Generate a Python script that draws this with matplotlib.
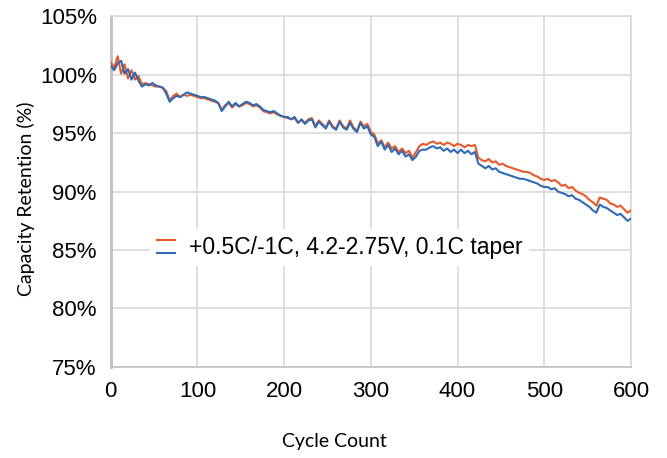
import numpy as np
import matplotlib
matplotlib.use("Agg")
import matplotlib.pyplot as plt
from matplotlib.lines import Line2D
from matplotlib.legend_handler import HandlerBase
from matplotlib.ticker import FuncFormatter

cycles = np.arange(0, 601, 4)

# orange series (%)
orange = [
    101.1, 100.6, 101.6, 100.1, 100.9, 99.7, 100.4, 99.6, 99.9, 99.2,
    99.3, 99.2, 99.1, 99.0, 99.0, 98.9, 98.6, 97.8, 98.2, 98.4,
    98.1, 98.3, 98.2, 98.3, 98.2, 98.1, 98.0, 98.0, 97.9, 97.8,
    97.7, 97.6, 97.0, 97.4, 97.6, 97.2, 97.5, 97.3, 97.4, 97.6,
    97.5, 97.3, 97.4, 97.2, 96.9, 96.8, 96.7, 96.8, 96.6, 96.5,
    96.4, 96.3, 96.2, 96.3, 95.9, 96.1, 95.9, 96.2, 96.3, 95.6,
    96.1, 95.8, 95.5, 96.1, 95.6, 95.4, 96.1, 95.6, 95.4, 96.1,
    95.5, 95.2, 96.0, 95.6, 95.8, 95.1, 94.9, 94.1, 94.4, 93.8,
    94.2, 93.7, 93.9, 93.4, 93.7, 93.3, 93.5, 92.9, 93.4, 93.9,
    94.1, 94.0, 94.2, 94.3, 94.1, 94.2, 94.0, 94.2, 94.1, 93.9,
    94.1, 94.0, 93.8, 94.0, 93.9, 94.0, 92.9, 92.7, 92.6, 92.8,
    92.5, 92.6, 92.3, 92.4, 92.2, 92.1, 92.0, 91.9, 91.8, 91.7,
    91.7, 91.6, 91.4, 91.3, 91.1, 91.0, 91.1, 90.9, 91.0, 90.8,
    90.5, 90.6, 90.3, 90.4, 90.1, 89.9, 89.8, 89.6, 89.3, 89.1,
    88.8, 89.5, 89.4, 89.3, 89.0, 88.9, 88.7, 88.8, 88.5, 88.2,
    88.4,
]

# blue series (%)
blue = [
    100.8, 100.4, 101.0, 101.2, 100.1, 100.5, 99.6, 100.2, 99.5, 99.0,
    99.2, 99.1, 99.3, 99.1, 99.0, 98.9, 98.4, 97.7, 98.0, 98.2,
    98.1, 98.3, 98.5, 98.4, 98.3, 98.2, 98.1, 98.1, 98.0, 97.9,
    97.8, 97.6, 96.9, 97.3, 97.7, 97.3, 97.6, 97.3, 97.5, 97.7,
    97.6, 97.4, 97.5, 97.3, 97.0, 96.9, 96.8, 96.9, 96.7, 96.5,
    96.4, 96.4, 96.2, 96.4, 95.9, 96.2, 95.8, 96.1, 96.2, 95.5,
    96.0, 95.7, 95.4, 96.0, 95.5, 95.3, 96.0, 95.5, 95.3, 95.9,
    95.4, 95.1, 95.9, 95.4, 95.6, 94.9, 94.7, 93.9, 94.3, 93.6,
    94.0, 93.4, 93.7, 93.2, 93.5, 93.0, 93.2, 92.7, 93.0, 93.5,
    93.6, 93.6, 93.8, 93.9, 93.7, 93.8, 93.5, 93.7, 93.4, 93.6,
    93.3, 93.6, 93.3, 93.5, 93.2, 93.4, 92.4, 92.2, 92.0, 92.2,
    91.9, 92.0, 91.7, 91.6, 91.5, 91.4, 91.3, 91.2, 91.1, 91.1,
    91.0, 90.9, 90.8, 90.7, 90.5, 90.4, 90.4, 90.2, 90.3, 90.0,
    89.9, 89.8, 89.6, 89.7, 89.4, 89.3, 89.1, 88.9, 88.7, 88.4,
    88.2, 88.9, 88.7, 88.6, 88.4, 88.2, 88.0, 88.1, 87.8, 87.5,
    87.7,
]

label = "+0.5C/-1C, 4.2-2.75V, 0.1C taper"
xticks = [0, 100, 200, 300, 400, 500, 600]
yticks = [75, 80, 85, 90, 95, 100, 105]


class StackedHandler(HandlerBase):
    # two short lines, one above the other, for a single legend label
    def create_artists(self, legend, orig_handle, xdescent, ydescent,
                       width, height, fontsize, trans):
        arts = []
        mid = height / 2 - ydescent
        for i, h in enumerate(orig_handle):
            y = mid + (0.28 - 0.56 * i) * fontsize
            ln = Line2D([-xdescent, -xdescent + width], [y, y],
                        color=h.get_color(), lw=h.get_linewidth())
            ln.set_transform(trans)
            arts.append(ln)
        return arts


fig = plt.figure(figsize=(6.67, 4.58), dpi=100)
ax = fig.add_axes([0.166, 0.199, 0.780, 0.765])

l1, = ax.plot(cycles, orange, color="#E95A2A", lw=1.5, zorder=3)
l2, = ax.plot(cycles, blue, color="#2F6AB3", lw=1.5, zorder=4)

ax.set_xlim(0, 600)
ax.set_ylim(75, 105)
ax.set_xticks(xticks)
ax.set_yticks(yticks)
ax.yaxis.set_major_formatter(FuncFormatter(lambda v, p: f"{v:.0f}%"))
ax.grid(True, color="#d9d9d9", lw=1.2)
ax.set_axisbelow(True)
ax.tick_params(length=0, labelsize=16, pad=10)
for lab in ax.get_xticklabels() + ax.get_yticklabels():
    lab.set_fontfamily("Liberation Sans")

for s in ["top", "right"]:
    ax.spines[s].set_color("#d9d9d9")
    ax.spines[s].set_linewidth(1.2)
ax.spines["left"].set_color("#c0c0c0")
ax.spines["left"].set_linewidth(2.0)
ax.spines["bottom"].set_color("#c0c0c0")
ax.spines["bottom"].set_linewidth(1.2)

ax.set_xlabel("Cycle Count", fontsize=14, family="Lato")
ax.set_ylabel("Capacity Retention (%)", fontsize=14, family="Lato")
ax.xaxis.set_label_coords(0.43, -0.19)
ax.yaxis.set_label_coords(-0.146, 0.48)

leg = ax.legend([(l1, l2)], [label], handler_map={tuple: StackedHandler()},
                loc="center", bbox_to_anchor=(0.44, 0.34), frameon=True,
                fancybox=False, edgecolor="none", framealpha=1,
                prop={"family": "Liberation Sans", "size": 16.5},
                handlelength=0.8, handletextpad=0.6, borderpad=0.3)
leg.set_zorder(5)

fig.savefig("out.png", dpi=100)
